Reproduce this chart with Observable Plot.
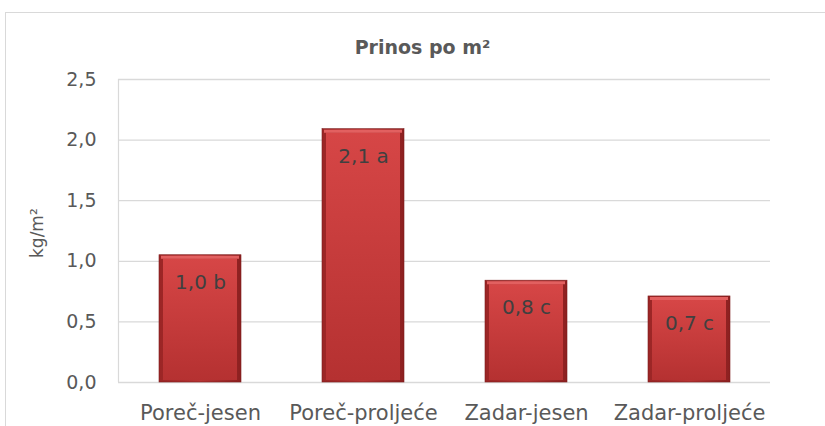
<!DOCTYPE html>
<html>
<head>
<meta charset="utf-8">
<script src="https://cdn.jsdelivr.net/npm/d3@7"></script>
<script src="https://cdn.jsdelivr.net/npm/@observablehq/plot@0.6"></script>
<style>
  html, body { margin: 0; padding: 0; background: #fff; }
  #wrap { position: relative; width: 825px; height: 426px; overflow: hidden; background: #fff; }
  #border { position: absolute; left: 5px; top: 12px; width: 900px; height: 500px; border: 1.5px solid #d9d9d9; box-sizing: border-box; }
  #chart { position: absolute; left: 0; top: 0; }
</style>
</head>
<body>
<div id="wrap"><div id="border"></div><div id="chart"></div></div>
<script>
const title = "Prinos po m²";
const yLabel = "kg/m²";
const categories = ["Poreč-jesen", "Poreč-proljeće", "Zadar-jesen", "Zadar-proljeće"];
const values = [1.05, 2.09, 0.84, 0.71];
const barLabels = ["1,0 b", "2,1 a", "0,8 c", "0,7 c"];
const yTicks = [0, 0.5, 1.0, 1.5, 2.0, 2.5];

const data = categories.map((c, i) => ({cat: c, value: values[i], label: barLabels[i]}));
const FONT = "DejaVu Sans, Liberation Sans, Arial, sans-serif";

const defs = () => {
  const g = d3.create("svg:defs");
  const lg = g.append("linearGradient").attr("id", "barGrad").attr("x1", 0).attr("y1", 0).attr("x2", 0).attr("y2", 1);
  lg.append("stop").attr("offset", "0%").attr("stop-color", "#d64646");
  lg.append("stop").attr("offset", "100%").attr("stop-color", "#b53131");
  const sg = g.append("linearGradient").attr("id", "edgeGrad").attr("x1", 0).attr("y1", 0).attr("x2", 1).attr("y2", 0);
  sg.append("stop").attr("offset", "0%").attr("stop-color", "#9a2525");
  sg.append("stop").attr("offset", "50%").attr("stop-color", "#b83434");
  sg.append("stop").attr("offset", "100%").attr("stop-color", "#8c2020");
  return g.node();
};

const leftAxisLine = (index, scales, values, dims) => {
  const g = d3.create("svg:g");
  g.append("line")
    .attr("x1", dims.marginLeft + 0.5).attr("x2", dims.marginLeft + 0.5)
    .attr("y1", dims.marginTop).attr("y2", dims.height - dims.marginBottom)
    .attr("stroke", "#d9d9d9").attr("stroke-width", 1.2);
  return g.node();
};

const chart = Plot.plot({
  width: 825,
  height: 426,
  marginLeft: 118,
  marginRight: 55,
  marginTop: 79,
  marginBottom: 44,
  style: {fontFamily: FONT, background: "transparent", overflow: "visible"},
  x: {domain: categories, paddingInner: 0.5, paddingOuter: 0.25, label: null},
  y: {domain: [0, 2.5], label: null},
  marks: [
    defs,
    Plot.ruleY(yTicks, {stroke: "#d9d9d9", strokeWidth: 1.3}),
    leftAxisLine,
    Plot.axisY({ticks: yTicks, tickSize: 0, tickPadding: 22, fontSize: 19, fill: "#595959",
      tickFormat: d => d.toFixed(1).replace(".", ","), label: null}),
    Plot.axisX({tickSize: 0, tickPadding: 23, fontSize: 21, fill: "#595959", label: null}),
    Plot.barY(data, {x: "cat", y: "value", fill: "url(#edgeGrad)", stroke: "#7e1d1d", strokeWidth: 0.6}),
    Plot.barY(data, {x: "cat", y: "value", fill: "url(#barGrad)", insetLeft: 4, insetRight: 4, insetTop: 4, insetBottom: 2}),
    Plot.tickY(data, {x: "cat", y: "value", stroke: "#e26060", strokeWidth: 3, dy: 2, insetLeft: 2, insetRight: 2}),
    Plot.text(data, {x: "cat", y: "value", text: "label", dy: 27, fontSize: 20, fill: "#404040"}),
    Plot.text([title], {frameAnchor: "top", lineAnchor: "middle", dy: -32, dx: -22, fontSize: 19, fontWeight: "bold", fill: "#595959"}),
    Plot.text([yLabel], {frameAnchor: "left", rotate: -90, dx: -81, dy: 27, fontSize: 17, fill: "#595959"})
  ]
});
document.getElementById("chart").appendChild(chart);
</script>
</body>
</html>
